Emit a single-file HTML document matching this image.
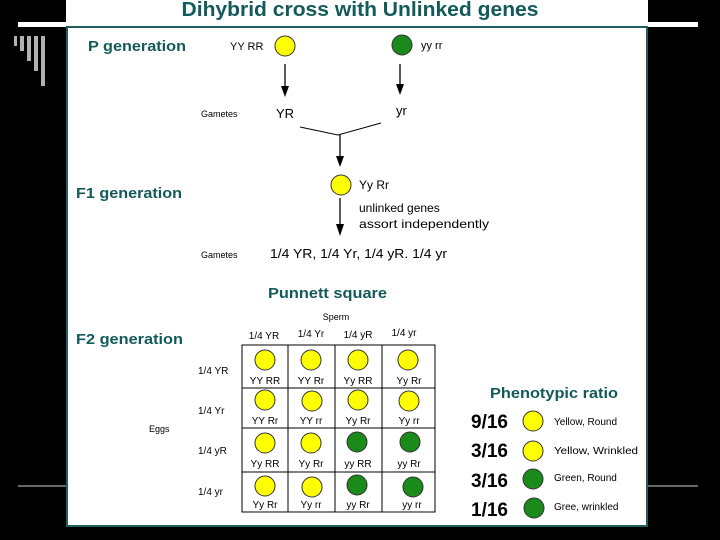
<!DOCTYPE html>
<html><head><meta charset="utf-8"><style>
body{margin:0;background:#000;width:720px;height:540px;overflow:hidden}
svg{display:block}
text{font-family:"Liberation Sans",sans-serif}
.t{fill:#135a5a;font-weight:bold}
</style></head><body>
<svg width="720" height="540" viewBox="0 0 720 540">
<rect width="720" height="540" fill="#000"/>
<rect x="66" y="0" width="582" height="22" fill="#fff"/>
<rect x="18" y="22" width="680" height="5" fill="#fff"/>
<g fill="#b0b0b0">
<rect x="14" y="36" width="3" height="10"/><rect x="20" y="36" width="4" height="15"/><rect x="27" y="36" width="4" height="25"/><rect x="34" y="36" width="4" height="35"/><rect x="41" y="36" width="4" height="50"/>
</g>
<line x1="18" y1="486" x2="66" y2="486" stroke="#ccc" stroke-width="1"/>
<line x1="648" y1="486" x2="698" y2="486" stroke="#ccc" stroke-width="1"/>
<rect x="67" y="27" width="580" height="499" fill="#fff" stroke="#1f5f5f" stroke-width="2"/>
<text x="360" y="16" class="t" font-size="20" text-anchor="middle" textLength="357" lengthAdjust="spacingAndGlyphs">Dihybrid cross with Unlinked genes</text>

<text x="88" y="51" class="t" font-size="15" textLength="98" lengthAdjust="spacingAndGlyphs">P generation</text>
<text x="230" y="50" font-size="11">YY RR</text>
<circle cx="285" cy="46" r="10" fill="#ff0" stroke="#333"/>
<circle cx="402" cy="45" r="10" fill="#1a8a1a" stroke="#333"/>
<text x="421" y="49" font-size="11">yy rr</text>
<g stroke="#000" stroke-width="1.3">
<line x1="285" y1="64" x2="285" y2="90"/><line x1="400" y1="64" x2="400" y2="88"/>
<polyline points="300,127 338,135 381,123" fill="none" stroke-width="1"/>
<line x1="340" y1="135" x2="340" y2="160"/>
<line x1="340" y1="198" x2="340" y2="228"/>
</g>
<g fill="#000">
<polygon points="281,86 289,86 285,97"/><polygon points="396,84 404,84 400,95"/>
<polygon points="336,156 344,156 340,167"/><polygon points="336,224 344,224 340,236"/>
</g>
<text x="201" y="117" font-size="9">Gametes</text>
<text x="276" y="118" font-size="13">YR</text>
<text x="396" y="115" font-size="13">yr</text>

<text x="76" y="198" class="t" font-size="15" textLength="106" lengthAdjust="spacingAndGlyphs">F1 generation</text>
<circle cx="341" cy="185" r="10" fill="#ff0" stroke="#333"/>
<text x="359" y="189" font-size="12">Yy Rr</text>
<text x="359" y="212" font-size="12">unlinked genes</text>
<text x="359" y="228" font-size="12" textLength="130" lengthAdjust="spacingAndGlyphs">assort independently</text>
<text x="201" y="258" font-size="9">Gametes</text>
<text x="270" y="258" font-size="13" textLength="177" lengthAdjust="spacingAndGlyphs">1/4 YR, 1/4 Yr, 1/4 yR. 1/4 yr</text>

<text x="268" y="298" class="t" font-size="15" textLength="119" lengthAdjust="spacingAndGlyphs">Punnett square</text>
<text x="336" y="320" font-size="9" text-anchor="middle">Sperm</text>
<g font-size="10" text-anchor="middle">
<text x="264" y="339">1/4 YR</text><text x="311" y="337">1/4 Yr</text><text x="358" y="338">1/4 yR</text><text x="404" y="336">1/4 yr</text>
</g>
<text x="76" y="344" class="t" font-size="15" textLength="107" lengthAdjust="spacingAndGlyphs">F2 generation</text>
<g font-size="10">
<text x="198" y="374">1/4 YR</text><text x="198" y="414">1/4 Yr</text><text x="198" y="454">1/4 yR</text><text x="198" y="495">1/4 yr</text>
<text x="149" y="432" font-size="9">Eggs</text>
</g>
<g stroke="#000" stroke-width="1" fill="none">
<rect x="242" y="345" width="193" height="167"/>
<line x1="288" y1="345" x2="288" y2="512"/><line x1="335" y1="345" x2="335" y2="512"/><line x1="382" y1="345" x2="382" y2="512"/>
<line x1="242" y1="388" x2="435" y2="388"/><line x1="242" y1="428" x2="435" y2="428"/><line x1="242" y1="472" x2="435" y2="472"/>
</g>
<g stroke="#333">
<circle cx="265" cy="360" r="10" fill="#ff0"/><circle cx="311" cy="360" r="10" fill="#ff0"/><circle cx="358" cy="360" r="10" fill="#ff0"/><circle cx="408" cy="360" r="10" fill="#ff0"/>
<circle cx="265" cy="400" r="10" fill="#ff0"/><circle cx="312" cy="401" r="10" fill="#ff0"/><circle cx="358" cy="400" r="10" fill="#ff0"/><circle cx="409" cy="401" r="10" fill="#ff0"/>
<circle cx="265" cy="443" r="10" fill="#ff0"/><circle cx="311" cy="443" r="10" fill="#ff0"/><circle cx="357" cy="442" r="10" fill="#1a8a1a"/><circle cx="410" cy="442" r="10" fill="#1a8a1a"/>
<circle cx="265" cy="486" r="10" fill="#ff0"/><circle cx="312" cy="487" r="10" fill="#ff0"/><circle cx="357" cy="485" r="10" fill="#1a8a1a"/><circle cx="413" cy="487" r="10" fill="#1a8a1a"/>
</g>
<g font-size="10" text-anchor="middle">
<text x="265" y="384">YY RR</text><text x="311" y="384">YY Rr</text><text x="358" y="384">Yy RR</text><text x="409" y="384">Yy Rr</text>
<text x="265" y="424">YY Rr</text><text x="311" y="424">YY rr</text><text x="358" y="424">Yy Rr</text><text x="409" y="424">Yy rr</text>
<text x="265" y="467">Yy RR</text><text x="311" y="467">Yy Rr</text><text x="358" y="467">yy RR</text><text x="409" y="467">yy Rr</text>
<text x="265" y="508">Yy Rr</text><text x="311" y="508">Yy rr</text><text x="358" y="508">yy Rr</text><text x="412" y="508">yy rr</text>
</g>

<text x="490" y="398" class="t" font-size="15" textLength="128" lengthAdjust="spacingAndGlyphs">Phenotypic ratio</text>
<g font-size="19" font-weight="bold">
<text x="471" y="428">9/16</text><text x="471" y="457">3/16</text><text x="471" y="487">3/16</text><text x="471" y="516">1/16</text>
</g>
<g stroke="#333">
<circle cx="533" cy="421" r="10" fill="#ff0"/><circle cx="533" cy="451" r="10" fill="#ff0"/>
<circle cx="533" cy="479" r="10" fill="#1a8a1a"/><circle cx="534" cy="508" r="10" fill="#1a8a1a"/>
</g>
<g font-size="10">
<text x="554" y="425">Yellow, Round</text><text x="554" y="454" textLength="84" lengthAdjust="spacingAndGlyphs">Yellow, Wrinkled</text>
<text x="554" y="481">Green, Round</text><text x="554" y="510">Gree, wrinkled</text>
</g>
</svg>
</body></html>
